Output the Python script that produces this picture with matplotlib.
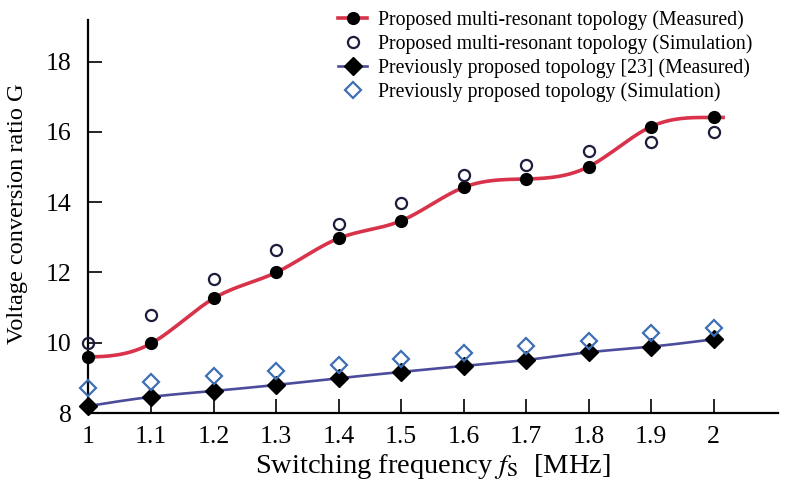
import numpy as np
import matplotlib as mpl
mpl.use('Agg')
import matplotlib.pyplot as plt

# plot settings
mpl.rcParams['font.family'] = ['Liberation Serif', 'DejaVu Serif']
mpl.rcParams['mathtext.fontset'] = 'stix'

# data
freq = [1.0, 1.1, 1.2, 1.3, 1.4, 1.5, 1.6, 1.7, 1.8, 1.9, 2.0]
g_new_meas = [9.60, 9.98, 11.26, 12.00, 12.97, 13.47, 14.42, 14.66, 15.01, 16.15, 16.41]
g_new_sim = [10.00, 10.79, 11.81, 12.63, 13.38, 13.97, 14.77, 15.06, 15.45, 15.72, 16.00]
g_old_meas = [8.20, 8.46, 8.63, 8.80, 8.99, 9.17, 9.34, 9.51, 9.73, 9.89, 10.10]
g_old_sim = [8.70, 8.89, 9.05, 9.20, 9.36, 9.53, 9.72, 9.91, 10.05, 10.27, 10.41]
xticks = [1.0, 1.1, 1.2, 1.3, 1.4, 1.5, 1.6, 1.7, 1.8, 1.9, 2.0]
xticklabels = ['1', '1.1', '1.2', '1.3', '1.4', '1.5', '1.6', '1.7', '1.8', '1.9', '2']
yticks = [8, 10, 12, 14, 16, 18]

def smooth(x, y, n=40, flat_ends=True):
  # cubic hermite spline, slopes from a clamped/natural spline system
  x = np.asarray(x, float); y = np.asarray(y, float)
  h = x[1] - x[0]
  N = len(x)
  A = np.zeros((N, N)); b = np.zeros(N)
  for i in range(1, N-1):
    A[i, i-1:i+2] = [1, 4, 1]
    b[i] = 3*(y[i+1]-y[i-1])/h
  if flat_ends:
    A[0, 0] = 1; A[-1, -1] = 1
  else:
    A[0, :2] = [2, 1]; b[0] = 3*(y[1]-y[0])/h
    A[-1, -2:] = [1, 2]; b[-1] = 3*(y[-1]-y[-2])/h
  m = np.linalg.solve(A, b)
  xs, ys = [], []
  for i in range(N-1):
    t = np.linspace(0, 1, n, endpoint=False)
    h00 = 2*t**3-3*t**2+1; h10 = t**3-2*t**2+t
    h01 = -2*t**3+3*t**2; h11 = t**3-t**2
    xs.append(x[i]+t*h)
    ys.append(h00*y[i]+h10*h*m[i]+h01*y[i+1]+h11*h*m[i+1])
  xs.append([x[-1]]); ys.append([y[-1]])
  return np.concatenate(xs), np.concatenate(ys)

red = '#d8334a'
blue = '#4c4c9c'
lblue = '#3d6fb6'
navy = '#1c1c3c'

fig = plt.figure(figsize=(8, 4.9), dpi=100)
ax = fig.add_axes([0.1106, 0.157, 0.862, 0.802])

xr, yr = smooth(freq, g_new_meas, flat_ends=True)
xr = np.append(xr, 2.015); yr = np.append(yr, yr[-1])
xb, yb = smooth(freq, g_old_meas, flat_ends=False)
xb = np.append(xb, 2.01); yb = np.append(yb, yb[-1] + 0.01)

ax.plot(xr, yr, '-', color=red, lw=2.6, clip_on=False, zorder=2)
ax.plot(freq, g_new_meas, 'o', color='k', ms=8.5, clip_on=False, zorder=3)
ax.plot(xb, yb, '-', color=blue, lw=1.9, clip_on=False, zorder=2)
ax.plot(freq, g_old_meas, 'D', color='k', ms=9, clip_on=False, zorder=3)
ax.plot(freq, g_new_sim, 'o', mfc='none', mec=navy, mew=1.6, ms=8, clip_on=False, zorder=4)
ax.plot(freq, g_old_sim, 'D', mfc='none', mec=lblue, mew=1.6, ms=8.5, clip_on=False, zorder=4)

# legend handles
h1, = ax.plot([], [], '-o', color=red, mfc='k', mec='k', lw=2.6, ms=8.5)
h2, = ax.plot([], [], 'o', mfc='none', mec=navy, mew=1.6, ms=8)
h3, = ax.plot([], [], '-D', color=blue, mfc='k', mec='k', lw=1.9, ms=9)
h4, = ax.plot([], [], 'D', mfc='none', mec=lblue, mew=1.6, ms=8.5)
leg = ax.legend([h1, h2, h3, h4],
                ['Proposed multi-resonant topology (Measured)',
                 'Proposed multi-resonant topology (Simulation)',
                 'Previously proposed topology [23] (Measured)',
                 'Previously proposed topology (Simulation)'],
                loc='upper left', bbox_to_anchor=(0.35, 1.045), frameon=False,
                fontsize=14.2, handlelength=1.5, handletextpad=0.55, labelspacing=0.22,
                borderaxespad=0)

ax.set_xlim(1, 2.103)
ax.set_ylim(8, 19.18)
for s in ['top', 'right']:
  ax.spines[s].set_visible(False)
for s in ['left', 'bottom']:
  ax.spines[s].set_linewidth(1.6)
ax.plot(1, 0, '>k', ms=10, transform=ax.get_yaxis_transform(), clip_on=False)
ax.plot(0, 1, '^k', ms=10, transform=ax.get_xaxis_transform(), clip_on=False)

ax.set_xticks(xticks)
ax.set_xticklabels(xticklabels)
ax.set_yticks(yticks)
ax.tick_params(direction='in', length=10, width=1.2, labelsize=18.5)
ax.tick_params(axis='x', pad=9)
ax.tick_params(axis='y', pad=12)

ax.set_xlabel(r'Switching frequency $f_\mathrm{S}$  [MHz]', fontsize=20.5)
ax.xaxis.set_label_coords(0.5, -0.1)
ax.set_ylabel('Voltage conversion ratio G', fontsize=17.5)
ax.yaxis.set_label_coords(-0.088, 0.506)

plt.savefig('out.png', dpi=100)
